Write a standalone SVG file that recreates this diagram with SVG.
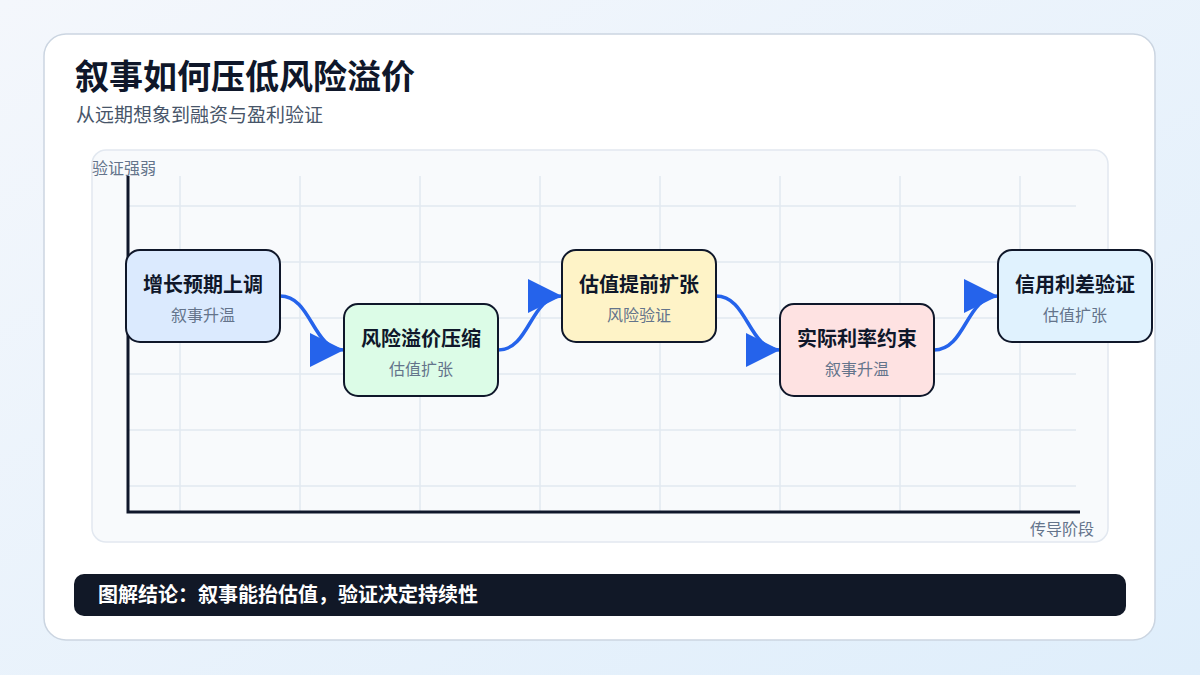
<svg xmlns="http://www.w3.org/2000/svg" width="1200" height="675" viewBox="0 0 1200 675">
<defs>
<linearGradient id="bg" x1="0" y1="0" x2="1" y2="1">
<stop offset="0" stop-color="#f4f7fc"/>
<stop offset="1" stop-color="#dfeefb"/>
</linearGradient>
<marker id="arr" markerUnits="userSpaceOnUse" markerWidth="34" markerHeight="34" viewBox="0 0 32 32" refX="32" refY="16" orient="auto">
<path d="M0,0 L32,16 L0,32 Z" fill="#2563eb"/>
</marker>
<style>
text{font-family:"Inter","Noto Sans CJK SC",sans-serif;}
.grid line{stroke:#e2e8f0;stroke-width:1.5;}
.node rect{stroke:#0f172a;stroke-width:2;}
.nt{font-size:20px;font-weight:700;fill:#0f172a;text-anchor:middle;}
.ns{font-size:16px;fill:#64748b;text-anchor:middle;}
.conn path{fill:none;stroke:#2563eb;stroke-width:3.5;marker-end:url(#arr);}
.axis{stroke:#0f172a;stroke-width:3;fill:none;}
.lbl{font-size:16px;fill:#64748b;}
</style>
</defs>
<rect width="1200" height="675" fill="url(#bg)"/>
<rect x="44" y="34" width="1111" height="606" rx="22" fill="#ffffff" stroke="#cbd5e1" stroke-width="1.5"/>
<text x="75" y="89" font-size="34" font-weight="700" fill="#0f172a">叙事如何压低风险溢价</text>
<text x="76" y="122" font-size="19" fill="#475569">从远期想象到融资与盈利验证</text>
<rect x="92" y="150" width="1016" height="392" rx="14" fill="#f8fafc" stroke="#e2e8f0" stroke-width="1.5"/>
<g class="grid">
<line x1="180" y1="176" x2="180" y2="512"/>
<line x1="300" y1="176" x2="300" y2="512"/>
<line x1="420" y1="176" x2="420" y2="512"/>
<line x1="540" y1="176" x2="540" y2="512"/>
<line x1="660" y1="176" x2="660" y2="512"/>
<line x1="780" y1="176" x2="780" y2="512"/>
<line x1="900" y1="176" x2="900" y2="512"/>
<line x1="1020" y1="176" x2="1020" y2="512"/>
<line x1="128" y1="206" x2="1076" y2="206"/>
<line x1="128" y1="262" x2="1076" y2="262"/>
<line x1="128" y1="318" x2="1076" y2="318"/>
<line x1="128" y1="374" x2="1076" y2="374"/>
<line x1="128" y1="430" x2="1076" y2="430"/>
<line x1="128" y1="486" x2="1076" y2="486"/>
</g>
<path class="axis" d="M128,176 L128,512 L1080,512"/>
<text class="lbl" x="92" y="174">验证强弱</text>
<text class="lbl" x="1094" y="535" text-anchor="end">传导阶段</text>
<g class="conn">
<path d="M280,296 C312,296 312,350 344,350"/>
<path d="M498,350 C530,350 530,296 562,296"/>
<path d="M716,296 C748,296 748,350 780,350"/>
<path d="M934,350 C966,350 966,296 998,296"/>
</g>
<g id="n1" class="node"><rect x="126" y="250" width="154" height="92" rx="14" fill="#dbeafe"/><text class="nt" x="203" y="292">增长预期上调</text><text class="ns" x="203" y="321">叙事升温</text></g>
<g id="n2" class="node"><rect x="344" y="304" width="154" height="92" rx="14" fill="#dcfce7"/><text class="nt" x="421" y="346">风险溢价压缩</text><text class="ns" x="421" y="375">估值扩张</text></g>
<g id="n3" class="node"><rect x="562" y="250" width="154" height="92" rx="14" fill="#fef3c7"/><text class="nt" x="639" y="292">估值提前扩张</text><text class="ns" x="639" y="321">风险验证</text></g>
<g id="n4" class="node"><rect x="780" y="304" width="154" height="92" rx="14" fill="#fee2e2"/><text class="nt" x="857" y="346">实际利率约束</text><text class="ns" x="857" y="375">叙事升温</text></g>
<g id="n5" class="node"><rect x="998" y="250" width="154" height="92" rx="14" fill="#e0f2fe"/><text class="nt" x="1075" y="292">信用利差验证</text><text class="ns" x="1075" y="321">估值扩张</text></g>
<g id="footer"><rect x="74" y="574" width="1052" height="42" rx="10" fill="#111827"/><text x="98" y="602" font-size="20" font-weight="700" fill="#ffffff">图解结论：叙事能抬估值，验证决定持续性</text></g>
</svg>
